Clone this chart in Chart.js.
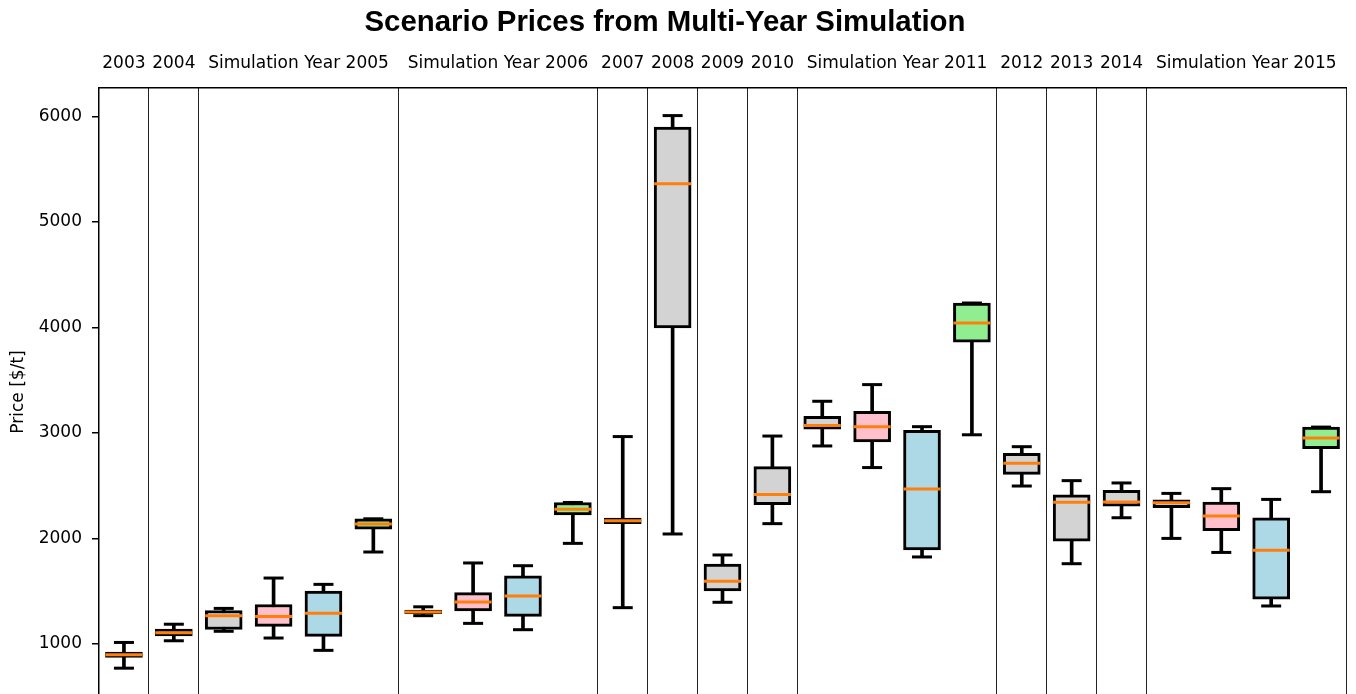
<!DOCTYPE html>
<html>
<head>
<meta charset="utf-8">
<title>Scenario Prices from Multi-Year Simulation</title>
<script src="https://cdn.jsdelivr.net/npm/chart.js@4.4.0/dist/chart.umd.min.js"></script>
<style>
  html, body { margin: 0; padding: 0; background: #fff; overflow: hidden; }
  /* shifted left so the full-width title sits where the original suptitle does */
  #wrap { position: absolute; left: -16px; top: 0; width: 1372px; height: 700px; }
</style>
</head>
<body>
<div id="wrap"><canvas id="priceChart" width="1372" height="700"></canvas></div>
<script>
// panels (one per simulation year) and how many scenario boxes each holds
const panelTitles = ['2003', '2004', 'Simulation Year 2005', 'Simulation Year 2006', '2007', '2008',
  '2009', '2010', 'Simulation Year 2011', '2012', '2013', '2014', 'Simulation Year 2015'];
const panelBoxCounts = [1, 1, 4, 4, 1, 1, 1, 1, 4, 1, 1, 1, 4];

// box statistics, one entry per box, left to right
const priceMin    = [768, 1028, 1118, 1054, 937, 1870, 1266, 1193, 1133, 1952, 1342, 2041, 1393, 2139,
  2876, 2671, 1823, 2982, 2496, 1759, 2195, 1999, 1866, 1358, 2442];
const priceQ1     = [870, 1075, 1135, 1165, 1070, 2087, 1284, 1310, 1260, 2222, 2140, 3995, 1500, 2320,
  3035, 2915, 1890, 3860, 2607, 1972, 2306, 2290, 2073, 1422, 2851];
const priceMedian = [896, 1104, 1266, 1259, 1288, 2135, 1302, 1396, 1453, 2276, 2166, 5364, 1592, 2416,
  3069, 3059, 2468, 4043, 2711, 2341, 2344, 2338, 2212, 1886, 2952];
const priceQ3     = [920, 1140, 1315, 1372, 1500, 2185, 1318, 1485, 1645, 2340, 2192, 5900, 1755, 2680,
  3158, 3205, 3025, 4232, 2806, 2413, 2455, 2366, 2344, 2195, 3055];
const priceMax    = [1012, 1185, 1335, 1623, 1563, 2185, 1350, 1766, 1740, 2340, 2965, 6010, 1842, 2970,
  3300, 3458, 3059, 4232, 2869, 2547, 2525, 2426, 2471, 2369, 3055];

const yTicks = [1000, 2000, 3000, 4000, 5000, 6000];

const boxFills = ['#d3d3d3', '#ffc0cb', '#add8e6', '#90ee90'];

// every box gets one slot on the x axis
const slotX = [], slotFill = [], panelCenters = [], panelEdges = [];
let slot = 0;
panelBoxCounts.forEach(n => {
  panelCenters.push(slot + (n - 1) / 2);
  for (let k = 0; k < n; k++) {
    slotX.push(slot);
    slotFill.push(boxFills[k]);
    slot++;
  }
  panelEdges.push(slot - 0.5);
});
const xMin = -0.5, xMax = slot - 0.5;

// scales should not push the plot area in for overhanging labels
const noLabelPadding = s => {
  s.paddingLeft = 0;
  s.paddingRight = 0;
  s.paddingTop = 0;
  s.paddingBottom = 0;
};

Chart.defaults.font.family = 'DejaVu Sans';
Chart.defaults.font.size = 17;
Chart.defaults.color = '#000';

const data = {
  datasets: [
    {
      type: 'bar',
      label: 'whiskers',
      data: slotX.map((x, i) => ({ x: x, y: [priceMin[i], priceMax[i]] })),
      backgroundColor: '#000',
      barThickness: 3,
      grouped: false,
      order: 3,
    },
    {
      type: 'bar',
      label: 'boxes',
      data: slotX.map((x, i) => ({ x: x, y: [priceQ1[i], priceQ3[i]] })),
      backgroundColor: slotFill,
      borderColor: '#000',
      borderWidth: 3,
      borderSkipped: false,
      barThickness: 37,
      grouped: false,
      order: 2,
    },
    {
      type: 'scatter',
      label: 'caps',
      data: slotX.flatMap((x, i) => [{ x: x, y: priceMin[i] }, { x: x, y: priceMax[i] }]),
      pointStyle: 'line',
      pointRadius: 10,
      pointBorderWidth: 3,
      pointBorderColor: '#000',
      order: 4,
    },
    {
      type: 'scatter',
      label: 'medians',
      data: slotX.map((x, i) => ({ x: x, y: priceMedian[i] })),
      pointStyle: 'line',
      pointRadius: 18.5,
      pointBorderWidth: 3,
      pointBorderColor: '#ff7f0e',
      order: 0,
    },
  ],
};

const options = {
  responsive: false,
  animation: false,
  layout: { autoPadding: false, padding: { left: 0, right: 10, top: 0, bottom: 4 } },
  scales: {
    x: {
      type: 'linear',
      min: xMin,
      max: xMax,
      offset: false,
      afterBuildTicks: s => { s.ticks = panelEdges.map(v => ({ value: v })); },
      afterFit: s => { noLabelPadding(s); s.height = 0; },
      ticks: { display: false },
      grid: { offset: false, drawTicks: false, color: '#222', lineWidth: 1 },
      border: { display: false },
    },
    xTop: {
      type: 'linear',
      position: 'top',
      min: xMin,
      max: xMax,
      offset: false,
      afterBuildTicks: s => { s.ticks = panelCenters.map(v => ({ value: v })); },
      afterFit: s => { noLabelPadding(s); s.height = 47.6; },
      ticks: {
        autoSkip: false,
        maxRotation: 0,
        padding: 14,
        color: '#000',
        callback: (value, index) => panelTitles[index],
      },
      grid: { offset: false, drawOnChartArea: false, drawTicks: false },
      border: { display: true, color: '#000', width: 1.5 },
    },
    y: {
      min: 504,
      max: 6272,
      afterBuildTicks: s => { s.ticks = yTicks.map(v => ({ value: v })); },
      afterFit: s => { noLabelPadding(s); s.width = 115; },
      ticks: { padding: 10, color: '#000', callback: v => String(v) },
      grid: { drawOnChartArea: false, drawTicks: true, tickLength: 7, color: '#000', lineWidth: 1.5 },
      border: { display: true, color: '#000', width: 1.5 },
      title: {
        display: true,
        text: 'Price [$/t]',
        color: '#000',
        padding: { top: 24, bottom: 0 },
      },
    },
  },
  plugins: {
    title: {
      display: true,
      text: 'Scenario Prices from Multi-Year Simulation',
      color: '#000',
      font: { family: 'Liberation Sans', weight: 'bold', size: 29.4 },
      padding: { top: 5.1, bottom: 0 },
    },
    legend: { display: false },
    tooltip: { enabled: false },
  },
};

new Chart(document.getElementById('priceChart'), { type: 'bar', data, options });
</script>
</body>
</html>
